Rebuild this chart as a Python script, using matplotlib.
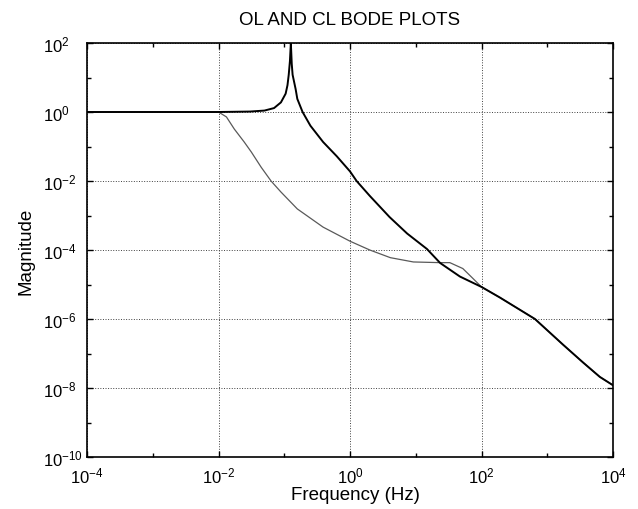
import numpy as np
import matplotlib
matplotlib.use('Agg')
import matplotlib.pyplot as plt
from matplotlib.ticker import FixedLocator, LogFormatterSciNotation, NullFormatter

plt.rcParams['font.family'] = ['Liberation Sans', 'DejaVu Sans']
plt.rcParams['mathtext.default'] = 'regular'

# open loop magnitude
freq_ol = [1e-4, 1e-3, 1e-2, 0.03, 0.05, 0.07, 0.089, 0.105, 0.112, 0.117, 0.122,
           0.126, 0.13, 0.134, 0.149, 0.158, 0.19, 0.25, 0.39, 0.63, 1.0, 1.26,
           2.0, 4.0, 7.4, 14.8, 23.5, 47, 100, 190, 650, 1740, 3500, 6300, 1e4]
mag_ol = [1, 1, 1, 1.03, 1.1, 1.3, 1.9, 3.4, 6, 12, 30,
          100, 25, 12, 4.6, 2.4, 1.0, 0.4, 0.135, 0.052, 0.019, 1e-2,
          3.7e-3, 9e-4, 3e-4, 1.07e-4, 4.2e-5, 1.7e-5, 8.5e-6, 4.2e-6, 1.0e-6,
          1.8e-7, 5.5e-8, 2.1e-8, 1.2e-8]

# closed loop magnitude
freq_cl = [1e-4, 1e-3, 0.01, 0.0132, 0.0174, 0.0246, 0.0316, 0.0446, 0.063, 0.089,
           0.158, 0.39, 1.0, 2.0, 4.1, 9.2, 23.5, 33, 52, 74, 100, 190, 650,
           1740, 3500, 6300, 1e4]
mag_cl = [1, 1, 1, 0.72, 0.32, 0.135, 0.069, 0.025, 1e-2, 4.8e-3,
          1.55e-3, 4.6e-4, 1.8e-4, 1.0e-4, 6e-5, 4.5e-5, 4.3e-5, 4.3e-5, 2.9e-5,
          1.5e-5, 8.5e-6, 4.2e-6, 1.0e-6, 1.8e-7, 5.5e-8, 2.1e-8, 1.2e-8]

xmajor = [1e-4, 1e-2, 1e0, 1e2, 1e4]
xminor = [1e-3, 1e-1, 1e1, 1e3]
ymajor = [1e-10, 1e-8, 1e-6, 1e-4, 1e-2, 1e0, 1e2]
yminor = [1e-9, 1e-7, 1e-5, 1e-3, 1e-1, 1e1]

fig = plt.figure(figsize=(6.38, 5.10), dpi=100)
ax = fig.add_axes([87/638, 1-458/510, 526/638, 414/510])

ax.loglog(freq_cl, mag_cl, color='0.35', lw=0.9)
ax.loglog(freq_ol, mag_ol, color='black', lw=1.4)

ax.set_xlim(1e-4, 1e4)
ax.set_ylim(1e-10, 1e2)
ax.xaxis.set_major_locator(FixedLocator(xmajor))
ax.xaxis.set_minor_locator(FixedLocator(xminor))
ax.yaxis.set_major_locator(FixedLocator(ymajor))
ax.yaxis.set_minor_locator(FixedLocator(yminor))
ax.xaxis.set_major_formatter(LogFormatterSciNotation())
ax.yaxis.set_major_formatter(LogFormatterSciNotation())
ax.xaxis.set_minor_formatter(NullFormatter())
ax.yaxis.set_minor_formatter(NullFormatter())

ax.grid(True, which='major', linestyle=':', color='0.25', lw=0.7)
ax.tick_params(which='both', direction='in', top=True, right=True, width=1)
ax.tick_params(which='major', length=4, labelsize=12)
ax.tick_params(which='minor', length=3)
ax.tick_params(axis='x', pad=6)
ax.tick_params(axis='y', pad=32)
for lab in ax.get_yticklabels():
    lab.set_horizontalalignment('left')
for s in ax.spines.values():
    s.set_linewidth(1.2)

ax.set_title('OL AND CL BODE PLOTS', fontsize=13.5, pad=14)
ax.set_xlabel('Frequency (Hz)', fontsize=13.5)
ax.set_ylabel('Magnitude', fontsize=13.5)
ax.xaxis.set_label_coords(0.51, -0.07)
ax.yaxis.set_label_coords(-0.10, 0.5)

plt.savefig('out.png', dpi=100)
